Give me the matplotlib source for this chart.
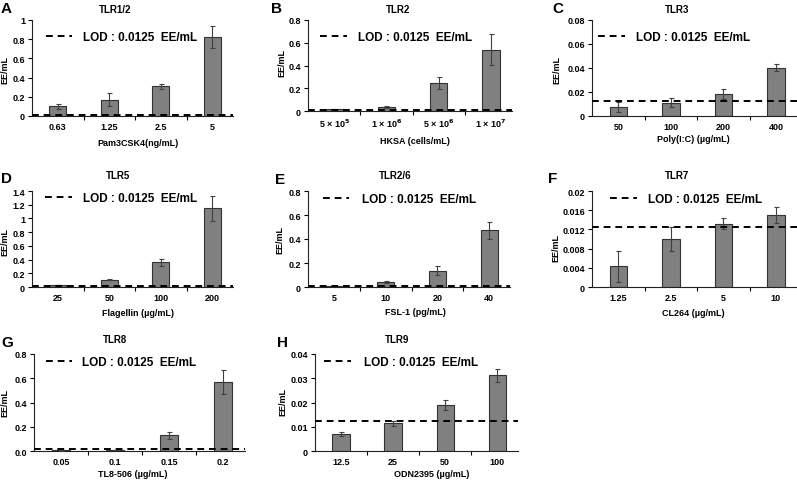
import matplotlib
matplotlib.use("Agg")
import matplotlib.pyplot as plt
from matplotlib.lines import Line2D
import numpy as np

plt.rcParams['font.family'] = ['Liberation Sans', 'DejaVu Sans']
plt.rcParams['font.weight'] = 'bold'

W, H = 797, 481
LOD = 0.0125

# ---- data ----
letters = ["A", "B", "C", "D", "E", "F", "G", "H"]
titles = ["TLR1/2", "TLR2", "TLR3", "TLR5", "TLR2/6", "TLR7", "TLR8", "TLR9"]
xlabels = ["Pam3CSK4(ng/mL)", "HKSA (cells/mL)", "Poly(I:C) (\u00b5g/mL)",
           "Flagellin (\u00b5g/mL)", "FSL-1 (pg/mL)", "CL264 (\u00b5g/mL)",
           "TL8-506 (\u00b5g/mL)", "ODN2395 (\u00b5g/mL)"]
cats_A = ["0.63", "1.25", "2.5", "5"]
cats_B = ["5 \u00d7 10$^5$", "1 \u00d7 10$^6$", "5 \u00d7 10$^6$", "1 \u00d7 10$^7$"]
cats_C = ["50", "100", "200", "400"]
cats_D = ["25", "50", "100", "200"]
cats_E = ["5", "10", "20", "40"]
cats_F = ["1.25", "2.5", "5", "10"]
cats_G = ["0.05", "0.1", "0.15", "0.2"]
cats_H = ["12.5", "25", "50", "100"]

vals_A = [0.10, 0.17, 0.308, 0.827]
err_A = [0.03, 0.065, 0.03, 0.115]
vals_B = [0.016, 0.035, 0.246, 0.54]
err_B = [0.004, 0.01, 0.05, 0.135]
vals_C = [0.0075, 0.011, 0.0185, 0.0404]
err_C = [0.0045, 0.0037, 0.0042, 0.0028]
vals_D = [0.03, 0.106, 0.362, 1.145]
err_D = [0.005, 0.008, 0.05, 0.185]
vals_E = [0.01, 0.044, 0.136, 0.474]
err_E = [0.002, 0.01, 0.035, 0.07]
vals_F = [0.0043, 0.0101, 0.0132, 0.015]
err_F = [0.0033, 0.0025, 0.0012, 0.0016]
vals_G = [0.005, 0.01, 0.129, 0.57]
err_G = [0.002, 0.002, 0.027, 0.1]
vals_H = [0.007, 0.0114, 0.0189, 0.0312]
err_H = [0.0008, 0.0011, 0.0021, 0.0028]

yticks_A = [0, 0.2, 0.4, 0.6, 0.8, 1.0]
ytl_A = ["0", "0.2", "0.4", "0.6", "0.8", "1"]
yticks_B = [0, 0.2, 0.4, 0.6, 0.8]
ytl_B = ["0", "0.2", "0.4", "0.6", "0.8"]
yticks_C = [0, 0.02, 0.04, 0.06, 0.08]
ytl_C = ["0", "0.02", "0.04", "0.06", "0.08"]
yticks_D = [0, 0.2, 0.4, 0.6, 0.8, 1.0, 1.2, 1.4]
ytl_D = ["0", "0.2", "0.4", "0.6", "0.8", "1", "1.2", "1.4"]
yticks_E = [0, 0.2, 0.4, 0.6, 0.8]
ytl_E = ["0", "0.2", "0.4", "0.6", "0.8"]
yticks_F = [0, 0.004, 0.008, 0.012, 0.016, 0.02]
ytl_F = ["0", "0.004", "0.008", "0.012", "0.016", "0.02"]
yticks_G = [0, 0.2, 0.4, 0.6, 0.8]
ytl_G = ["0.0", "0.2", "0.4", "0.6", "0.8"]
yticks_H = [0, 0.01, 0.02, 0.03, 0.04]
ytl_H = ["0", "0.01", "0.02", "0.03", "0.04"]

panels = [
    (cats_A, vals_A, err_A, yticks_A, ytl_A),
    (cats_B, vals_B, err_B, yticks_B, ytl_B),
    (cats_C, vals_C, err_C, yticks_C, ytl_C),
    (cats_D, vals_D, err_D, yticks_D, ytl_D),
    (cats_E, vals_E, err_E, yticks_E, ytl_E),
    (cats_F, vals_F, err_F, yticks_F, ytl_F),
    (cats_G, vals_G, err_G, yticks_G, ytl_G),
    (cats_H, vals_H, err_H, yticks_H, ytl_H),
]

# ---- layout (pixels) ----
# axes: left, right, top, bottom
boxes = [(32, 233, 21, 117), (308, 512, 21, 112), (592, 797, 21, 117),
         (32, 233, 192, 288), (308, 510, 192, 288), (592, 797, 192, 288),
         (34, 245, 355, 452), (315, 518, 355, 452)]
letter_pos = [(6, 9), (277, 9), (558, 9), (6, 179), (280, 180), (553, 179),
              (7, 343), (282, 343)]
title_pos = [(115, 10), (398, 10), (677, 10), (118, 176), (395, 176), (677, 176),
             (115, 340), (397, 340)]
xlabel_pos = [(138, 143), (415, 142), (693, 140), (138, 314), (415, 313),
              (693, 314), (133, 475), (432, 475)]
ylabel_pos = [(5, 70), (282, 63), (557, 70), (5, 242), (280, 240), (556, 248),
              (5, 403), (283, 402)]
leg_pos = [(46, 72, 37, 83), (320, 347, 37, 358), (598, 625, 37, 636),
           (45, 72, 198, 83), (323, 349, 199, 362), (610, 637, 199, 648),
           (46, 72, 362, 82), (324, 351, 362, 364)]


def fx(x):
    return x / W


def fy(y):
    return 1 - y / H


fig = plt.figure(figsize=(W / 100, H / 100), dpi=100)

for i, (cats, vals, errs, yt, ytl) in enumerate(panels):
    l, r, t, b = boxes[i]
    ax = fig.add_axes([fx(l), fy(b), (r - l) / W, (b - t) / H])
    x = np.arange(len(cats))
    ax.bar(x, vals, width=0.33, color="#808080", edgecolor="#333333",
           linewidth=0.8, zorder=2)
    ax.errorbar(x, vals, yerr=errs, fmt="none", ecolor="#404040",
                elinewidth=0.8, capsize=1.8, capthick=0.8, zorder=3)
    ax.axhline(LOD, color="black", linestyle=(0, (3.5, 2.5)), linewidth=1.4,
               zorder=4)
    ax.set_xlim(-0.5, 3.4)
    ax.set_ylim(yt[0], yt[-1])
    ax.set_yticks(yt)
    ax.set_yticklabels(ytl, fontsize=6.5, fontweight="bold")
    ax.set_xticks(x)
    ax.set_xticklabels(cats, fontsize=6.5, fontweight="bold")
    ax.set_xticks([0.5, 1.5, 2.5], minor=True)
    ax.tick_params(axis="x", which="major", length=0, pad=4)
    ax.tick_params(axis="x", which="minor", length=3, width=0.8, direction="out")
    ax.tick_params(axis="y", length=3, width=0.8, direction="out", pad=2)
    for s in ["top", "right"]:
        ax.spines[s].set_visible(False)
    for s in ["left", "bottom"]:
        ax.spines[s].set_linewidth(0.8)
        ax.spines[s].set_color("#222222")

    # panel letter, title, axis labels
    lx, ly = letter_pos[i]
    fig.text(fx(lx), fy(ly), letters[i], fontsize=11, fontweight="bold",
             ha="center", va="center")
    tx, ty = title_pos[i]
    fig.text(fx(tx), fy(ty), titles[i], fontsize=7, fontweight="bold",
             ha="center", va="center")
    xx, xy = xlabel_pos[i]
    fig.text(fx(xx), fy(xy), xlabels[i], fontsize=6.5, fontweight="bold",
             ha="center", va="center")
    yx, yy = ylabel_pos[i]
    fig.text(fx(yx), fy(yy), "EE/mL", fontsize=6.5, fontweight="bold",
             ha="center", va="center", rotation=90)

    # legend-like LOD annotation
    x0, x1, ly2, txs = leg_pos[i]
    fig.add_artist(Line2D([fx(x0), fx(x1)], [fy(ly2), fy(ly2)], color="black",
                          linestyle=(0, (3.5, 2.5)), linewidth=1.4))
    fig.text(fx(txs), fy(ly2 + 1), "LOD : 0.0125  EE/mL", fontsize=8.5,
             fontweight="bold", ha="left", va="center")

fig.savefig("out.png", dpi=100)
